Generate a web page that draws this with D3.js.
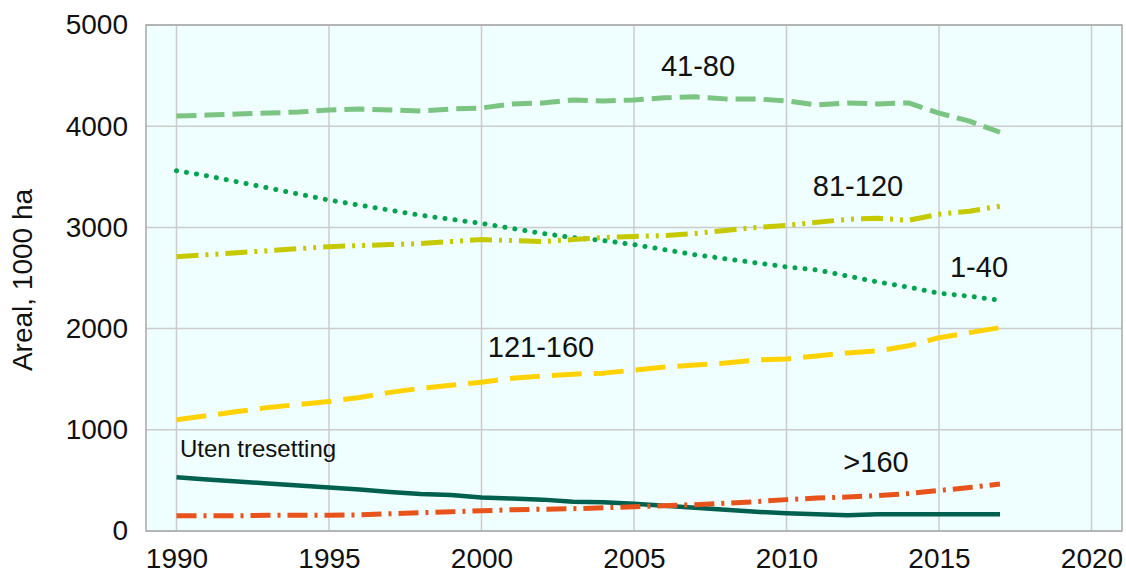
<!DOCTYPE html>
<html><head><meta charset="utf-8">
<script src="https://cdn.jsdelivr.net/npm/d3@7"></script>
<style>body{margin:0;background:#fff}svg{display:block;font-family:"Liberation Sans",Arial,sans-serif}</style>
</head><body><svg id="c" width="1126" height="575"></svg>
<script>
const years = d3.range(1990, 2018);
const s41_80 = [4100,4110,4120,4130,4140,4160,4170,4160,4150,4170,4180,4220,4230,4260,4250,4260,4280,4290,4270,4270,4250,4210,4230,4220,4230,4130,4050,3940];
const s1_40 = [3560,3510,3450,3390,3330,3270,3220,3170,3120,3080,3040,2990,2940,2900,2870,2830,2780,2730,2690,2650,2610,2580,2520,2460,2410,2350,2320,2280];
const s81_120 = [2710,2730,2750,2770,2790,2810,2820,2830,2840,2860,2880,2870,2860,2880,2900,2910,2920,2940,2970,3000,3020,3050,3080,3090,3070,3130,3160,3210];
const s121_160 = [1100,1140,1180,1220,1250,1280,1320,1370,1410,1440,1470,1510,1530,1550,1560,1590,1620,1640,1660,1690,1700,1730,1760,1780,1830,1910,1960,2010];
const sUten = [530,510,490,470,450,430,410,385,365,355,330,320,310,290,285,270,250,230,210,190,175,165,155,165,165,165,165,165];
const s160 = [150,150,150,155,155,155,160,170,180,190,200,210,215,220,230,240,250,260,275,290,310,325,335,350,370,400,430,465];
const xTicks = [1990,1995,2000,2005,2010,2015,2020];
const yTicks = [0,1000,2000,3000,4000,5000];
const yTitle = "Areal, 1000 ha";

const series = [
  {name:"41-80", values:s41_80, color:"#7cc482", width:5, dash:"20,8", label:[698,76], fs:29},
  {name:"1-40", values:s1_40, color:"#00a34e", width:5, dash:"0.1,10", cap:"round", label:[979,277], fs:29},
  {name:"81-120", values:s81_120, color:"#c6c800", width:5, dash:"22,7,3,7,3,7", label:[858,196], fs:29},
  {name:"121-160", values:s121_160, color:"#ffd200", width:5, dash:"30,12", label:[541,357], fs:29},
  {name:"Uten tresetting", values:sUten, color:"#00604f", width:4.5, dash:null, label:[180,457], fs:24, anchor:"start"},
  {name:">160", values:s160, color:"#e8531c", width:5, dash:"20,7,3,7", label:[876,472], fs:29}
];

const svg = d3.select("#c");
const L=146, R=1122, T=25, B=531;
const x = d3.scaleLinear().domain([1989,2021]).range([L,R]);
const y = d3.scaleLinear().domain([0,5000]).range([B,T]);

svg.append("rect").attr("x",L).attr("y",T).attr("width",R-L).attr("height",B-T).attr("fill","#effefe");

svg.append("g").selectAll("line").data(xTicks).join("line")
  .attr("x1",d=>x(d)).attr("x2",d=>x(d)).attr("y1",T).attr("y2",B)
  .attr("stroke","#cccccc").attr("stroke-width",1.5);
svg.append("g").selectAll("line").data(yTicks).join("line")
  .attr("x1",L).attr("x2",R).attr("y1",d=>y(d)).attr("y2",d=>y(d))
  .attr("stroke","#cccccc").attr("stroke-width",1.5);
svg.append("rect").attr("x",L).attr("y",T).attr("width",R-L).attr("height",B-T)
  .attr("fill","none").attr("stroke","#a8a8a8").attr("stroke-width",1.5);

const xAxis = svg.append("g").attr("transform",`translate(0,${B})`)
  .call(d3.axisBottom(x).tickValues(xTicks).tickFormat(d3.format("d")).tickSize(0).tickPadding(17));
const yAxis = svg.append("g").attr("transform",`translate(${L},0)`)
  .call(d3.axisLeft(y).tickValues(yTicks).tickFormat(d3.format("d")).tickSize(0).tickPadding(18));
[xAxis,yAxis].forEach(a=>{
  a.select(".domain").remove();
  a.selectAll("text").attr("font-size",28).attr("fill","#111").attr("font-family","Liberation Sans, Arial, sans-serif");
});

svg.append("text").attr("transform",`translate(32,${280}) rotate(-90)`)
  .attr("text-anchor","middle").attr("font-size",28).attr("fill","#111").text(yTitle);

const line = d3.line().x((d,i)=>x(years[i])).y(d=>y(d));
series.forEach(s=>{
  svg.append("path").datum(s.values).attr("d",line)
    .attr("fill","none").attr("stroke",s.color).attr("stroke-width",s.width)
    .attr("stroke-dasharray",s.dash).attr("stroke-linecap",s.cap||"butt").attr("stroke-linejoin","round");
});
series.forEach(s=>{
  svg.append("text").attr("x",s.label[0]).attr("y",s.label[1])
    .attr("text-anchor",s.anchor||"middle").attr("font-size",s.fs).attr("fill","#111").text(s.name);
});
</script></body></html>
